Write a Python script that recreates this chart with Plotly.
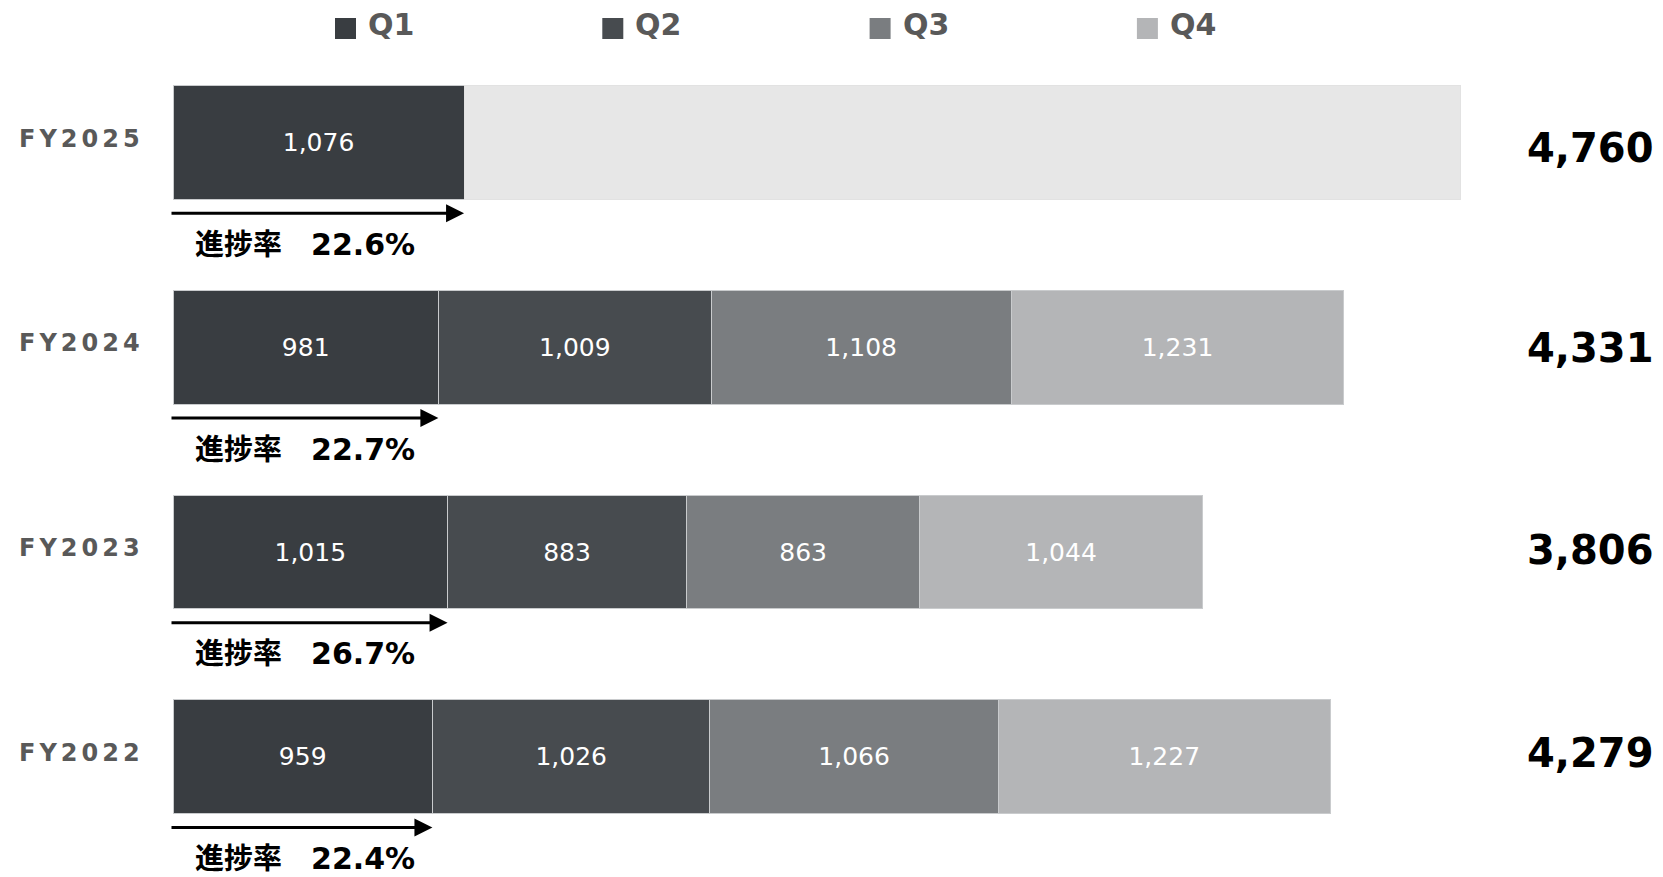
import plotly.graph_objects as go

# Quarterly figures per fiscal year (top row first)
years = ["FY2025", "FY2024", "FY2023", "FY2022"]
q1 = [1076, 981, 1015, 959]
q2 = [None, 1009, 883, 1026]
q3 = [None, 1108, 863, 1066]
q4 = [None, 1231, 1044, 1227]
totals = [4760, 4331, 3806, 4279]
quarter_names = ["Q1", "Q2", "Q3", "Q4"]

# Styling
COLORS = ["#393D41", "#474B4F", "#7A7D80", "#B4B5B7"]
REMAIN_COLOR = "#E7E7E7"
EDGE = "#C9CBCD"
W, H = 1663, 877
PX_PER_UNIT = 0.2705          # horizontal scale of the bars
ZERO_PX = 173                 # pixel where bars start
ROW_PX = 204.7                # vertical distance between rows
FIRST_ROW_PX = 142.6          # centre of the top row
BAR_PX = 113.5                # bar thickness
BAR_W = BAR_PX / ROW_PX
TOTAL_SHIFT = [-5, -1, 2, 4]  # fine vertical offsets of the total labels
LATIN = "DejaVu Sans"
CJK = "DejaVu Sans, Noto Sans CJK JP"

pos = list(range(len(years)))
x_range = [-ZERO_PX / PX_PER_UNIT, (W - ZERO_PX) / PX_PER_UNIT]
y_range = [(H - FIRST_ROW_PX) / ROW_PX, -FIRST_ROW_PX / ROW_PX]

fig = go.Figure()
for name, vals, col in zip(quarter_names, [q1, q2, q3, q4], COLORS):
    fig.add_trace(go.Bar(
        name=name, y=pos, x=vals, orientation="h", width=BAR_W,
        marker=dict(color=col, line=dict(color=EDGE, width=1)),
        texttemplate="%{x:,}", textposition="inside", insidetextanchor="middle",
        textangle=0, textfont=dict(family=LATIN, size=25, color="#FFFFFF"),
        hoverinfo="skip",
    ))

# Unreported part of the year still to go (forecast remainder)
remaining = []
for vals_row, tot in zip(zip(q1, q2, q3, q4), totals):
    if any(v is None for v in vals_row):
        remaining.append(tot - sum(v for v in vals_row if v is not None))
    else:
        remaining.append(None)
fig.add_trace(go.Bar(
    name="remaining", y=pos, x=remaining, orientation="h", width=BAR_W,
    marker=dict(color=REMAIN_COLOR, line=dict(color="#E2E2E2", width=1)),
    hoverinfo="skip",
))

ann = []
spaced = "\u2006"
for p, yr, a, tot, tshift in zip(pos, years, q1, totals, TOTAL_SHIFT):
    # fiscal year label
    ann.append(dict(xref="paper", yref="y", x=17 / W, y=p, yshift=4, xanchor="left",
                    yanchor="middle", showarrow=False, text=spaced.join(yr),
                    font=dict(family=LATIN, size=24, color="#595959", weight="bold")))
    # annual total
    ann.append(dict(xref="paper", yref="y", x=1656 / W, y=p, yshift=tshift, xanchor="right",
                    yanchor="middle", showarrow=False, text=f"{tot:,}",
                    font=dict(family=LATIN, size=40, color="#000000", weight="bold")))
    # arrow spanning Q1
    ann.append(dict(xref="x", yref="y", x=a, y=p + BAR_W / 2, yshift=-14,
                    axref="x", ayref="y", ax=-3 / PX_PER_UNIT, ay=p + BAR_W / 2,
                    showarrow=True, arrowhead=2, arrowsize=1.2, arrowwidth=3,
                    arrowcolor="#000000", standoff=0, text=""))
    # progress rate of Q1 against the annual total
    rate = a / tot * 100
    ann.append(dict(xref="x", yref="y", x=0, xshift=20, y=p + BAR_W / 2, yshift=-45,
                    xanchor="left", yanchor="middle", showarrow=False,
                    text=f"進捗率\u3000<span style='font-size:30px'>{rate:.1f}%</span>",
                    font=dict(family=CJK, size=29, color="#000000", weight="bold")))

# legend drawn as squares with labels
shapes = []
for i, (name, col) in enumerate(zip(quarter_names, COLORS)):
    left = 335 + i * 267.3
    shapes.append(dict(type="rect", xref="paper", yref="paper",
                       x0=left / W, x1=(left + 21) / W, y0=1 - 39 / H, y1=1 - 18 / H,
                       fillcolor=col, line=dict(width=0)))
    ann.append(dict(xref="paper", yref="paper", x=(left + 31) / W, y=1 - 25 / H,
                    xanchor="left", yanchor="middle", showarrow=False, text=name,
                    font=dict(family=LATIN, size=30, color="#595959", weight="bold")))

fig.update_layout(
    width=W, height=H, barmode="stack", showlegend=False,
    margin=dict(l=0, r=0, t=0, b=0),
    paper_bgcolor="#FFFFFF", plot_bgcolor="#FFFFFF",
    xaxis=dict(visible=False, range=x_range),
    yaxis=dict(visible=False, range=y_range),
    annotations=ann, shapes=shapes,
    uniformtext=dict(mode=False),
)
fig.write_html("out.html")
